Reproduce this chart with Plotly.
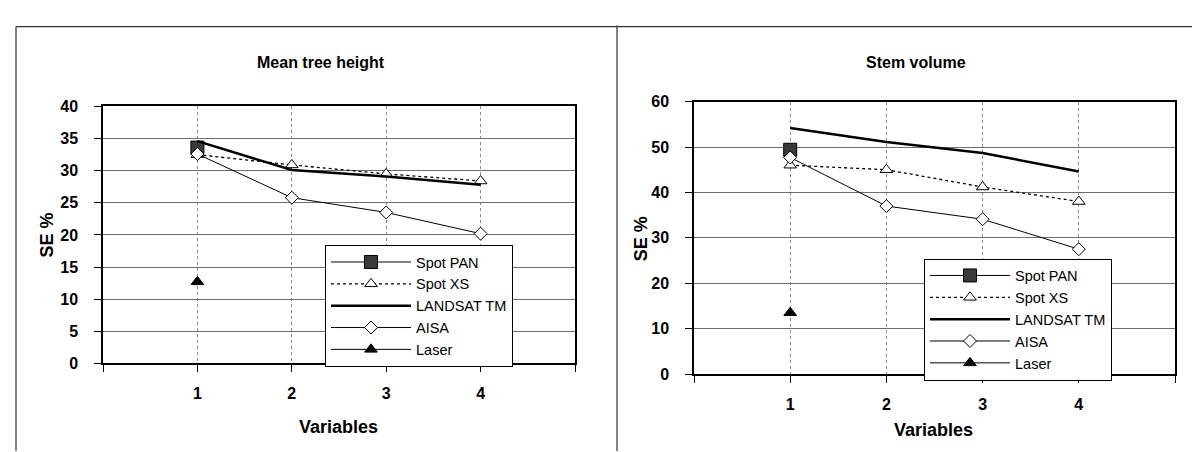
import plotly.graph_objects as go

# ---- data ----
variables = [1, 2, 3, 4]
series_names = ["Spot PAN", "Spot XS", "LANDSAT TM", "AISA", "Laser"]

height_spot_pan = [33.6, None, None, None]
height_spot_xs = [32.5, 30.9, 29.5, 28.4]
height_landsat = [34.6, 30.1, 29.1, 27.8]
height_aisa = [32.6, 25.8, 23.5, 20.2]
height_laser = [12.7, None, None, None]

volume_spot_pan = [49.4, None, None, None]
volume_spot_xs = [46.0, 45.0, 41.2, 38.0]
volume_landsat = [54.2, 51.1, 48.7, 44.6]
volume_aisa = [47.7, 37.0, 34.1, 27.5]
volume_laser = [13.5, None, None, None]

x_tickvals = [0, 1, 2, 3, 4, 5]
x_ticktext = ["", "1", "2", "3", "4", ""]

W, H = 1200, 452
FONT = "Arial, Liberation Sans, sans-serif"


def px(x):
    return x / W


def py(y):
    return 1 - y / H


styles = [
    dict(mode="lines+markers", line=dict(color="black", width=1),
         marker=dict(symbol="square", size=13, color="#3a3a3a", line=dict(color="black", width=1))),
    dict(mode="lines+markers", line=dict(color="black", width=1.3, dash="dot"),
         marker=dict(symbol="triangle-up", size=11, color="white", line=dict(color="black", width=1))),
    dict(mode="lines", line=dict(color="black", width=2.5)),
    dict(mode="lines+markers", line=dict(color="black", width=1),
         marker=dict(symbol="diamond", size=10, color="white", line=dict(color="black", width=1))),
    dict(mode="lines+markers", line=dict(color="black", width=1),
         marker=dict(symbol="triangle-up", size=11, color="black", line=dict(color="black", width=1))),
]

fig = go.Figure()

left_series = [height_spot_pan, height_spot_xs, height_landsat, height_aisa, height_laser]
right_series = [volume_spot_pan, volume_spot_xs, volume_landsat, volume_aisa, volume_laser]

for name, vals, st in zip(series_names, left_series, styles):
    fig.add_trace(go.Scatter(x=variables, y=vals, name=name, xaxis="x", yaxis="y",
                             legend="legend", connectgaps=False, **st))
for name, vals, st in zip(series_names, right_series, styles):
    fig.add_trace(go.Scatter(x=variables, y=vals, name=name, xaxis="x2", yaxis="y2",
                             legend="legend2", connectgaps=False, **st))

tickfont = dict(family=FONT, size=16, color="black", weight="bold")
common_x = dict(range=[0, 5], tickvals=x_tickvals, ticktext=x_ticktext, ticks="outside",
                ticklen=7, tickcolor="black", showline=True, linecolor="black", linewidth=1.5,
                mirror=True, showgrid=True, gridcolor="#8a8a8a", griddash="dot", gridwidth=1,
                zeroline=False, tickfont=tickfont, ticklabelstandoff=8)
common_y = dict(ticks="outside", ticklen=7, tickcolor="black", showline=True, linecolor="black",
                linewidth=1.5, mirror=True, showgrid=True, gridcolor="#6e6e6e", gridwidth=1,
                zeroline=False, tickfont=tickfont, ticklabelstandoff=13)

legend_common = dict(xanchor="left", yanchor="top", bgcolor="white", bordercolor="black",
                     borderwidth=1, font=dict(family=FONT, size=14.5), itemwidth=80,
                     tracegroupgap=0)

fig.update_layout(
    width=W, height=H, margin=dict(l=0, r=0, t=0, b=0),
    paper_bgcolor="white", plot_bgcolor="white",
    font=dict(family=FONT, color="black"),
    xaxis=dict(domain=[px(95), px(567)], anchor="y", **common_x),
    yaxis=dict(domain=[py(361), py(94)], anchor="x", range=[0, 40], dtick=5, **common_y),
    xaxis2=dict(domain=[px(686), px(1167)], anchor="y2", **common_x),
    yaxis2=dict(domain=[py(372), py(89)], anchor="x2", range=[0, 60], dtick=10, **common_y),
    legend=dict(x=px(317), y=py(238), **legend_common),
    legend2=dict(x=px(916), y=py(252), **legend_common),
    showlegend=True,
)

title_font = dict(family=FONT, size=16, color="black")
axis_title_font = dict(family=FONT, size=18, color="black")
annos = [
    dict(text="<b>Mean tree height</b>", x=px(313), y=py(48), font=title_font),
    dict(text="<b>Stem volume</b>", x=px(908), y=py(48), font=title_font),
    dict(text="<b>Variables</b>", x=px(330), y=py(427), font=axis_title_font),
    dict(text="<b>Variables</b>", x=px(925), y=py(430), font=axis_title_font),
    dict(text="<b>SE %</b>", x=px(39), y=py(228), font=axis_title_font, textangle=-90),
    dict(text="<b>SE %</b>", x=px(633), y=py(232), font=axis_title_font, textangle=-90),
]
for a in annos:
    fig.add_annotation(xref="paper", yref="paper", showarrow=False,
                       xanchor="center", yanchor="middle", **a)

# outer chart frames
frame = dict(type="line", xref="paper", yref="paper", line=dict(color="#333", width=1.2))
fig.add_shape(x0=px(8), x1=1, y0=py(11), y1=py(11), **frame)
fig.add_shape(x0=px(8), x1=px(8), y0=py(11), y1=0, **frame)
fig.add_shape(x0=px(609), x1=px(609), y0=py(10), y1=0, **frame)

fig.write_html("out.html")
